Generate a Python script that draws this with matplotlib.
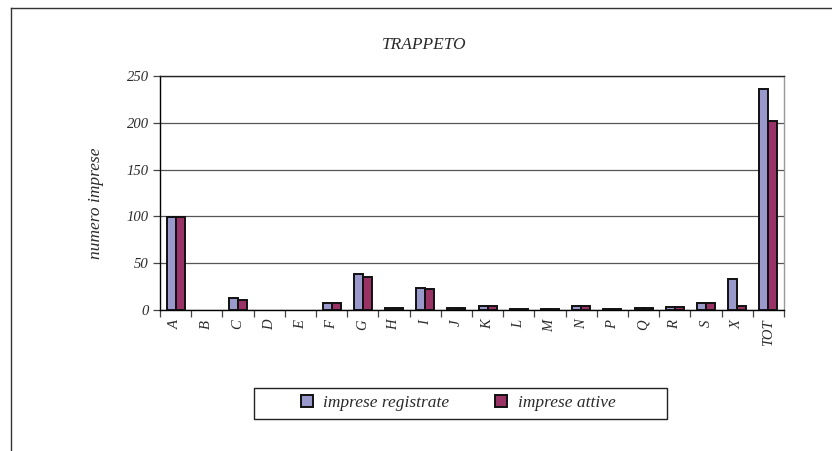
import matplotlib

matplotlib.use("Agg")

import matplotlib.pyplot as plt
import numpy as np
from matplotlib.lines import Line2D
from matplotlib.patches import Rectangle

# Sezioni di attività economica
categories = ["A", "B", "C", "D", "E", "F", "G", "H", "I", "J",
              "K", "L", "M", "N", "P", "Q", "R", "S", "X", "TOT"]
registrate = [99, 0, 13, 0, 0, 7, 38, 2, 23, 2, 4, 1, 1, 4, 1, 2, 3, 8, 33, 236]
attive = [99, 0, 11, 0, 0, 7, 35, 2, 22, 2, 4, 1, 1, 4, 1, 2, 3, 8, 4, 202]

title = "TRAPPETO"
ylabel = "numero imprese"
series_names = ["imprese registrate", "imprese attive"]
yticks = [0, 50, 100, 150, 200, 250]

COLOR_REG = "#9999CC"
COLOR_ATT = "#993366"
TEXT = "#2a2a2a"

plt.rcParams["font.family"] = ["Liberation Serif", "DejaVu Serif"]
plt.rcParams["font.style"] = "italic"
plt.rcParams["text.color"] = TEXT

fig = plt.figure(figsize=(8.32, 4.51), dpi=100)
ax = fig.add_axes([160 / 832, 1 - 310 / 451, 624 / 832, 234 / 451])

x = np.arange(len(categories))
w = 0.29


def edges(vals):
    # Excel draws nothing for empty categories
    return ["none" if v == 0 else "#111111" for v in vals]


ax.bar(x - w / 2, registrate, w, color=COLOR_REG, edgecolor=edges(registrate),
       linewidth=1.4, zorder=3, label=series_names[0])
ax.bar(x + w / 2, attive, w, color=COLOR_ATT, edgecolor=edges(attive),
       linewidth=1.4, zorder=3, label=series_names[1])

ax.set_xlim(-0.5, len(categories) - 0.5)
ax.set_ylim(0, 250)
ax.set_yticks(yticks)
ax.set_yticklabels([str(t) for t in yticks], fontsize=10.5, color=TEXT)
ax.yaxis.grid(True, color="#555555", linewidth=0.9, zorder=0)
ax.set_axisbelow(True)

# labels at category centres, tick marks at category boundaries
ax.set_xticks(x)
ax.set_xticklabels(categories, rotation=90, fontsize=10.5, color=TEXT)
ax.tick_params(axis="x", which="major", length=0, pad=7)
ax.set_xticks(np.arange(-0.5, len(categories)), minor=True)
ax.tick_params(axis="x", which="minor", length=5, width=0.9, color="#444444")
ax.tick_params(axis="y", length=5, width=0.9, color="#444444", pad=3)

ax.spines["left"].set_color("black")
ax.spines["bottom"].set_color("black")
ax.spines["top"].set_color("#222222")
ax.spines["right"].set_color("#999999")
for s in ax.spines.values():
    s.set_linewidth(1.0)

ax.set_ylabel(ylabel, fontsize=12.5, color=TEXT)
ax.yaxis.set_label_coords(-0.09, 0.455)
fig.text(0.5 + 8 / 832, 1 - 45 / 451, title, ha="center", va="center", fontsize=12.5)

# legend box
fig.add_artist(Rectangle((254 / 832, 1 - 419 / 451), 413 / 832, 31 / 451,
                         transform=fig.transFigure, fill=False,
                         edgecolor="#222222", linewidth=1.0))
handles, labels = ax.get_legend_handles_labels()
fig.legend(handles, labels, loc="center", ncol=2,
           bbox_to_anchor=(458 / 832, 1 - 403 / 451), frameon=False,
           fontsize=12.5, handlelength=0.72, handleheight=0.72,
           handletextpad=0.6, columnspacing=2.6)

# outer chart frame
fig.add_artist(Line2D([11 / 832, 11 / 832], [0, 1 - 8 / 451],
                      transform=fig.transFigure, color="#333333", linewidth=1.0))
fig.add_artist(Line2D([11 / 832, 1], [1 - 8 / 451, 1 - 8 / 451],
                      transform=fig.transFigure, color="#333333", linewidth=1.0))

fig.savefig("out.png", dpi=100)
